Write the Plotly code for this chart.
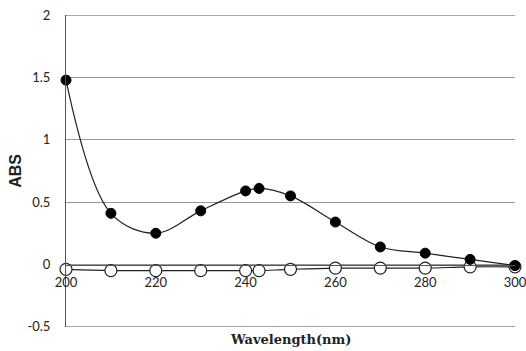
import plotly.graph_objects as go

wavelength = [200, 210, 220, 230, 240, 243, 250, 260, 270, 280, 290, 300]
abs_filled = [1.48, 0.41, 0.25, 0.43, 0.59, 0.61, 0.55, 0.34, 0.14, 0.09, 0.04, -0.01]
abs_open = [-0.04, -0.05, -0.05, -0.05, -0.05, -0.05, -0.04, -0.03, -0.03, -0.03, -0.02, -0.02]
x_ticks = [200, 220, 240, 260, 280, 300]
y_ticks = [-0.5, 0, 0.5, 1, 1.5, 2]
y_tick_text = ["-0.5", "0", "0.5", "1", "1.5", "2"]

fig = go.Figure()
fig.add_trace(go.Scatter(
    x=wavelength, y=abs_open, mode="lines+markers",
    line=dict(color="#222", width=1.2, shape="spline"),
    marker=dict(symbol="circle", size=12, color="white", line=dict(color="#222", width=1.2)),
    showlegend=False, cliponaxis=False))
fig.add_trace(go.Scatter(
    x=wavelength, y=abs_filled, mode="lines+markers",
    line=dict(color="#222", width=1.2, shape="spline", smoothing=1.0),
    marker=dict(symbol="circle", size=10, color="black", line=dict(color="black", width=1)),
    showlegend=False, cliponaxis=False))

# top and bottom gridlines (at y=2 and y=-0.5, the range edges)
for yv in (y_ticks[0], y_ticks[-1]):
    fig.add_shape(type="line", xref="paper", yref="y", x0=0, x1=1, y0=yv, y1=yv,
                  line=dict(color="#999", width=1), layer="below")

fig.update_layout(
    width=526, height=351,
    margin=dict(l=66, r=11, t=15, b=24, autoexpand=False),
    paper_bgcolor="white", plot_bgcolor="white",
    font=dict(family="Lato, Open Sans, sans-serif", size=13, color="#222"),
    xaxis=dict(range=[200, 300], tickvals=x_ticks, showgrid=False, automargin=False,
               zeroline=False, showline=True, linecolor="#555", linewidth=1,
               anchor="free", position=0.2, ticks="outside", ticklen=6,
               tickcolor="rgba(0,0,0,0)", tickfont=dict(size=13),
               ticklabeloverflow="allow"),
    yaxis=dict(range=[-0.503, 2.003], tickvals=y_ticks, ticktext=y_tick_text, automargin=False,
               showgrid=True, gridcolor="#999", gridwidth=1,
               zeroline=False, showline=True, linecolor="#555", linewidth=1,
               ticks="outside", ticklen=12, tickcolor="rgba(0,0,0,0)",
               tickfont=dict(size=13)),
    annotations=[
        dict(text="<b>ABS</b>", x=-0.114, y=0.5, xref="paper", yref="paper",
             xanchor="center", yanchor="middle", showarrow=False, textangle=-90,
             font=dict(family="Liberation Sans, Arial", size=16, color="#222")),
        dict(text="<b>Wavelength(nm)</b>", x=0.5, y=0, xref="paper", yref="paper",
             xanchor="center", yanchor="top", showarrow=False, yshift=-3,
             font=dict(family="DejaVu Serif, Liberation Serif", size=13, color="#222")),
    ],
)
fig.write_html("out.html", config={"displayModeBar": False},
               post_script="document.body.style.margin='0';document.body.style.overflow='hidden';")
